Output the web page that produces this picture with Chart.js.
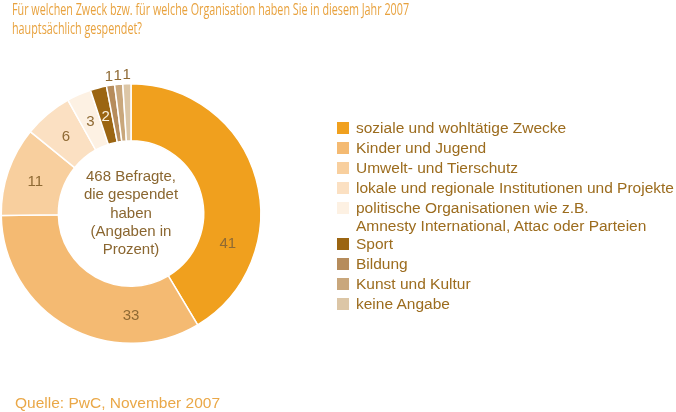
<!DOCTYPE html>
<html>
<head>
<meta charset="utf-8">
<script src="https://cdn.jsdelivr.net/npm/chart.js@4"></script>
<style>
  body { margin: 0; background: #fff; }
  #wrap { position: relative; width: 676px; height: 412px; overflow: hidden; }
  #chart { position: absolute; left: 0; top: 0; }
  .title {
    position: absolute; left: 12px; top: 0px;
    font-family: "Open Sans", sans-serif; font-size: 15.5px; line-height: 19px;
    color: #e8a23e; transform: scaleX(0.695); transform-origin: 0 0; white-space: nowrap;
  }
  .source {
    position: absolute; left: 15px; top: 394px;
    font-family: "Liberation Sans", Arial, sans-serif; font-size: 15.5px; color: #eaa848;
  }
  #legend {
    position: absolute; left: 337px; top: 119px;
    font-family: "Liberation Sans", Arial, sans-serif; font-size: 15.5px; line-height: 18px; color: #9c6c1e;
  }
  .row { position: relative; padding-left: 19px; margin-bottom: 2px; white-space: nowrap; }
  .row.tight { margin-bottom: 0; }
  .sw { position: absolute; left: 0; top: 3px; width: 12px; height: 12px; }
</style>
</head>
<body>
<div id="wrap">
  <canvas id="chart" width="676" height="412"></canvas>
  <div class="title">Für welchen Zweck bzw. für welche Organisation haben Sie in diesem Jahr 2007<br>hauptsächlich gespendet?</div>
  <div id="legend"></div>
  <div class="source">Quelle: PwC, November 2007</div>
</div>
<script>
const categories = [
  'soziale und wohltätige Zwecke',
  'Kinder und Jugend',
  'Umwelt- und Tierschutz',
  'lokale und regionale Institutionen und Projekte',
  ['politische Organisationen wie z.B.', 'Amnesty International, Attac oder Parteien'],
  'Sport',
  'Bildung',
  'Kunst und Kultur',
  'keine Angabe'
]
const values = [41, 33, 11, 6, 3, 2, 1, 1, 1]
const colors = ['#f0a01e', '#f4ba72', '#f8cf9e', '#fbe0c2', '#fdf1e3', '#9b6512', '#b68c5c', '#c9a77c', '#dcc6a6']
const centerLines = ['468 Befragte,', 'die gespendet', 'haben', '(Angaben in', 'Prozent)']

// legend
const legend = document.getElementById('legend')
categories.forEach((label, i) => {
  const row = document.createElement('div')
  row.className = Array.isArray(label) ? 'row tight' : 'row'
  const sw = document.createElement('span')
  sw.className = 'sw'
  sw.style.background = colors[i]
  row.appendChild(sw)
  const lines = Array.isArray(label) ? label : [label]
  lines.forEach((t, k) => {
    if (k > 0) row.appendChild(document.createElement('br'))
    row.appendChild(document.createTextNode(t))
  })
  legend.appendChild(row)
})

const sliceLabels = {
  id: 'sliceLabels',
  afterDatasetsDraw (chart, args, opts) {
    const ctx = chart.ctx
    const meta = chart.getDatasetMeta(0)
    ctx.save()
    ctx.font = '15px "Liberation Sans", Arial, sans-serif'
    ctx.textAlign = 'center'
    ctx.textBaseline = 'middle'
    meta.data.forEach((arc, i) => {
      const p = arc.getProps(['x', 'y', 'startAngle', 'endAngle', 'innerRadius', 'outerRadius'], true)
      let angle = (p.startAngle + p.endAngle) / 2
      if (opts.angles[i] !== undefined) angle = opts.angles[i] * Math.PI / 180
      const small = values[i] < 2
      const r = small ? p.outerRadius + 10 : (p.innerRadius + p.outerRadius) / 2
      ctx.fillStyle = i === 5 ? '#fbf1e0' : '#8f6a34'
      ctx.fillText(values[i], p.x + Math.cos(angle) * r, p.y + Math.sin(angle) * r + 1)
    })
    // centre text
    const a = meta.data[0]
    ctx.fillStyle = '#8a6630'
    ctx.font = '15px "Liberation Sans", Arial, sans-serif'
    const lh = 18.3
    centerLines.forEach((t, k) => {
      ctx.fillText(t, a.x, a.y + (k - (centerLines.length - 1) / 2) * lh)
    })
    ctx.restore()
  }
}

new Chart(document.getElementById('chart'), {
  type: 'doughnut',
  data: {
    labels: categories,
    datasets: [{
      data: values,
      backgroundColor: colors,
      borderColor: '#ffffff',
      borderWidth: 1.5,
      hoverOffset: 0
    }]
  },
  options: {
    responsive: false,
    animation: false,
    cutout: '56%',
    layout: { padding: { left: 0, right: 414, top: 83, bottom: 68 } },
    plugins: {
      legend: { display: false },
      tooltip: { enabled: false },
      sliceLabels: { angles: { 0: 17, 1: 90 } }
    }
  },
  plugins: [sliceLabels]
})
</script>
</body>
</html>
